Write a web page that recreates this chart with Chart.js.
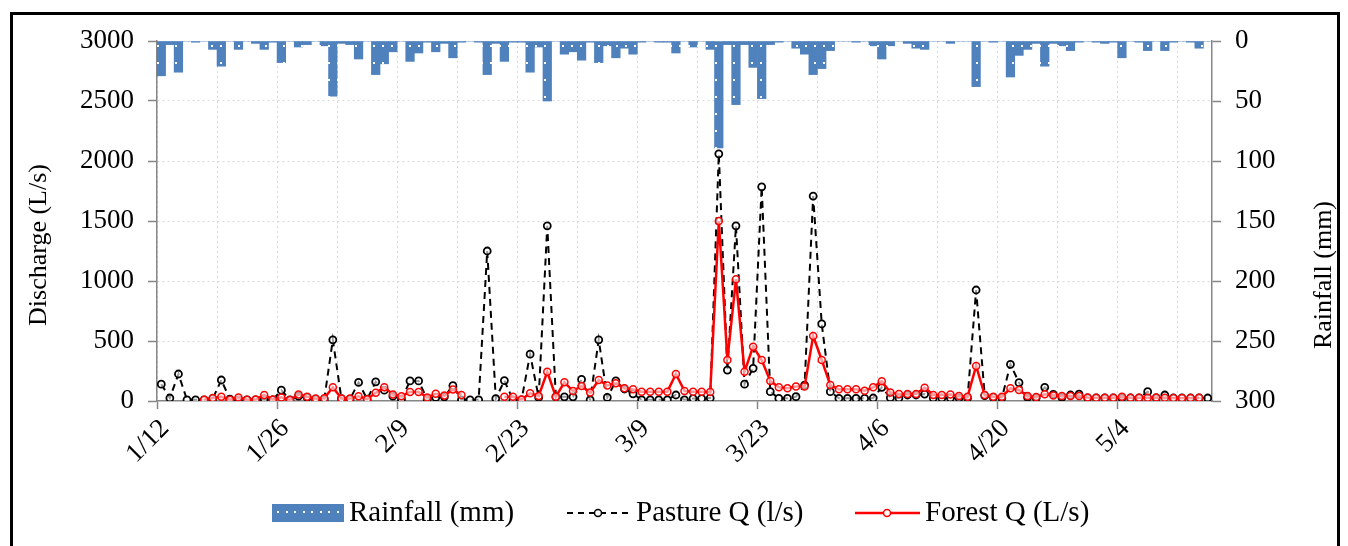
<!DOCTYPE html>
<html>
<head>
<meta charset="utf-8">
<script src="https://cdn.jsdelivr.net/npm/chart.js@4.4.1/dist/chart.umd.min.js"></script>
<style>
  html, body { margin: 0; padding: 0; background: #fff; }
  #wrap { position: relative; width: 1348px; height: 546px; overflow: hidden; }
</style>
</head>
<body>
<div id="wrap"><canvas id="chart" width="1348" height="546"></canvas></div>
<script>
// one value per day, starting 1/12 (123 days)
const tickLabels = ['1/12', '1/26', '2/9', '2/23', '3/9', '3/23', '4/6', '4/20', '5/4'];

const rainfall = [
  29, 3, 26, 0, 1, 0, 7, 21, 0, 7, 0, 2, 7, 1, 18, 0, 5, 3, 0, 4,
  46, 2, 3, 15, 0, 28, 19, 9, 0, 17, 10, 1, 9, 2, 14, 1, 0, 1, 28, 2,
  17, 1, 1, 26, 5, 50, 0, 11, 9, 16, 1, 18, 4, 14, 6, 11, 1, 0, 1, 1,
  10, 0, 5, 0, 7, 89, 3, 53, 3, 22, 48, 3, 1, 0, 6, 11, 28, 23, 8, 0,
  0, 1, 0, 4, 15, 4, 0, 2, 6, 7, 0, 0, 2, 0, 0, 38, 0, 1, 0, 30,
  12, 7, 2, 21, 2, 4, 8, 1, 0, 1, 2, 1, 14, 0, 1, 8, 0, 8, 1, 0,
  1, 6, 0
];

const pastureQ = [
  140, 25, 225, 10, 10, 10, 20, 175, 15, 10, 10, 10, 15, 10, 90, 10, 40, 30, 15, 15,
  510, 20, 15, 155, 15, 160, 90, 40, 15, 167, 167, 15, 30, 35, 128, 10, 10, 10, 1250, 20,
  170, 10, 10, 390, 30, 1460, 35, 35, 35, 180, 10, 510, 30, 167, 100, 60, 10, 10, 10, 10,
  50, 10, 20, 20, 25, 2060, 258, 1460, 140, 272, 1785, 78, 22, 22, 36, 133, 1708, 642, 78, 22,
  22, 22, 22, 25, 114, 28, 25, 50, 50, 58, 25, 25, 25, 25, 25, 925, 45, 30, 25, 306,
  153, 30, 25, 114, 56, 30, 50, 58, 25, 25, 25, 25, 25, 25, 25, 78, 25, 50, 25, 25,
  25, 25, 25
];

const forestQ = [
  null, null, null, null, null, 10, 25, 35, 10, 30, 10, 12, 50, 12, 30, 8, 55, 35, 20, 22,
  115, 20, 20, 40, 15, 68, 115, 55, 40, 75, 75, 30, 60, 45, 95, 50, null, null, null, null,
  35, 35, 12, 64, 42, 244, 36, 156, 83, 125, 70, 175, 130, 147, 106, 97, 78, 78, 78, 78,
  225, 83, 78, 78, 75, 1500, 342, 1015, 244, 453, 342, 167, 114, 106, 120, 120, 542, 342, 133, 97,
  97, 97, 86, 114, 165, 70, 58, 58, 58, 111, 50, 50, 55, 42, 36, 292, 50, 36, 36, 106,
  92, 42, 33, 56, 45, 42, 42, 42, 30, 28, 28, 28, 35, 28, 28, 28, 30, 28, 25, 25,
  25, 28, null
];

const FONT = 'Liberation Serif';
const AXIS_GRAY = '#868686';
const GRID_GRAY = '#d9d9d9';
const BAR_BLUE = '#4f81bd';

function dotPattern() {
  const c = document.createElement('canvas');
  c.width = 9;
  c.height = 17;
  const g = c.getContext('2d');
  g.fillStyle = BAR_BLUE;
  g.fillRect(0, 0, 9, 17);
  g.fillStyle = '#ffffff';
  g.fillRect(4, 11, 2, 2);
  return g.createPattern(c, 'repeat');
}
const barFill = dotPattern();

const toPoints = arr => arr.map((v, i) => ({ x: i + 0.5, y: v }));

// frame, axis titles and legend drawn by hand
const decorations = {
  id: 'decorations',
  afterDraw(chart) {
    const ctx = chart.ctx;
    ctx.save();
    ctx.strokeStyle = '#000';
    ctx.lineWidth = 3;
    ctx.strokeRect(11.5, 13.5, 1327, 560);

    ctx.fillStyle = '#000';
    ctx.font = '26px "' + FONT + '"';
    ctx.textAlign = 'center';
    ctx.textBaseline = 'middle';
    ctx.save();
    ctx.translate(39, 245);
    ctx.rotate(-Math.PI / 2);
    ctx.fillText('Discharge (L/s)', 0, 0);
    ctx.restore();
    ctx.save();
    ctx.translate(1324, 275);
    ctx.rotate(-Math.PI / 2);
    ctx.fillText('Rainfall (mm)', 0, 0);
    ctx.restore();

    const ly = 513;
    ctx.font = '29px "' + FONT + '"';
    ctx.textAlign = 'left';
    ctx.fillStyle = BAR_BLUE;
    ctx.fillRect(272, 504, 72, 18);
    ctx.fillStyle = '#fff';
    for (let x = 277; x < 344; x += 8.5) ctx.fillRect(Math.round(x), 511, 2, 2);
    ctx.fillStyle = '#000';
    ctx.fillText('Rainfall (mm)', 349, ly);

    ctx.strokeStyle = '#000';
    ctx.lineWidth = 2;
    ctx.setLineDash([6, 5]);
    ctx.beginPath();
    ctx.moveTo(567, ly);
    ctx.lineTo(629, ly);
    ctx.stroke();
    ctx.setLineDash([]);
    ctx.lineWidth = 1.5;
    ctx.beginPath();
    ctx.arc(598, ly, 3.5, 0, Math.PI * 2);
    ctx.fillStyle = '#fff';
    ctx.fill();
    ctx.stroke();
    ctx.fillStyle = '#000';
    ctx.fillText('Pasture Q (l/s)', 636, ly);

    ctx.strokeStyle = '#ff0000';
    ctx.lineWidth = 2.5;
    ctx.beginPath();
    ctx.moveTo(855, ly);
    ctx.lineTo(920, ly);
    ctx.stroke();
    ctx.lineWidth = 1.5;
    ctx.beginPath();
    ctx.arc(887, ly, 3.5, 0, Math.PI * 2);
    ctx.fillStyle = '#fff';
    ctx.fill();
    ctx.stroke();
    ctx.fillStyle = '#000';
    ctx.fillText('Forest Q (L/s)', 925, ly);
    ctx.restore();
  }
};

new Chart(document.getElementById('chart'), {
  type: 'bar',
  data: {
    datasets: [
      {
        type: 'line',
        label: 'Forest Q (L/s)',
        data: toPoints(forestQ),
        yAxisID: 'y',
        order: 1,
        borderColor: '#ff0000',
        borderWidth: 2.5,
        pointRadius: 3.5,
        pointBorderWidth: 1.5,
        pointBorderColor: '#ff0000',
        pointBackgroundColor: 'rgba(255,255,255,0.6)',
        spanGaps: false,
        tension: 0
      },
      {
        type: 'line',
        label: 'Pasture Q (l/s)',
        data: toPoints(pastureQ),
        yAxisID: 'y',
        order: 2,
        borderColor: '#000',
        borderWidth: 2,
        borderDash: [7, 5],
        pointRadius: 3.5,
        pointBorderWidth: 1.8,
        pointBorderColor: '#000',
        pointBackgroundColor: 'rgba(255,255,255,0.6)',
        tension: 0
      },
      {
        type: 'bar',
        label: 'Rainfall (mm)',
        data: toPoints(rainfall),
        yAxisID: 'y1',
        order: 3,
        backgroundColor: barFill,
        borderWidth: 0,
        barPercentage: 1,
        categoryPercentage: 1
      }
    ]
  },
  options: {
    responsive: false,
    animation: false,
    devicePixelRatio: 1,
    layout: { padding: { top: 41, left: 0, right: 0, bottom: 0 } },
    plugins: {
      legend: { display: false },
      tooltip: { enabled: false }
    },
    scales: {
      x: {
        type: 'linear',
        min: 0,
        max: 123,
        offset: false,
        afterFit: s => { s.height = 145; },
        border: { display: true, color: AXIS_GRAY, width: 1.5, dash: [2, 3] },
        grid: {
          offset: false,
          color: GRID_GRAY,
          lineWidth: 1,
          tickLength: 8,
          tickColor: c => (c.tick && c.tick.value % 14 === 0) ? AXIS_GRAY : 'rgba(0,0,0,0)',
          tickWidth: 1.5
        },
        ticks: {
          stepSize: 7,
          includeBounds: false,
          autoSkip: false,
          minRotation: 45,
          maxRotation: 45,
          padding: 4,
          labelOffset: 8,
          color: '#000',
          font: { family: FONT, size: 27 },
          callback: v => v % 14 === 0 ? tickLabels[v / 14] : ''
        }
      },
      y: {
        position: 'left',
        min: 0,
        max: 3000,
        afterFit: s => { s.width = 157; },
        border: { display: true, color: AXIS_GRAY, width: 1.5, dash: [2, 3] },
        grid: {
          color: c => c.tick.value === 0 ? 'rgba(0,0,0,0)' : GRID_GRAY,
          lineWidth: 1,
          tickLength: 9,
          tickColor: AXIS_GRAY,
          tickWidth: 1.5
        },
        ticks: {
          stepSize: 500,
          padding: 14,
          color: '#000',
          font: { family: FONT, size: 27 },
          callback: v => String(v)
        }
      },
      y1: {
        position: 'right',
        reverse: true,
        min: 0,
        max: 300,
        afterFit: s => { s.width = 136; },
        border: { display: true, color: AXIS_GRAY, width: 1.5 },
        grid: {
          drawOnChartArea: false,
          tickLength: 9,
          tickColor: AXIS_GRAY,
          tickWidth: 1.5
        },
        ticks: {
          stepSize: 50,
          padding: 14,
          color: '#000',
          font: { family: FONT, size: 27 },
          callback: v => String(v)
        }
      }
    }
  },
  plugins: [decorations]
});
</script>
</body>
</html>
